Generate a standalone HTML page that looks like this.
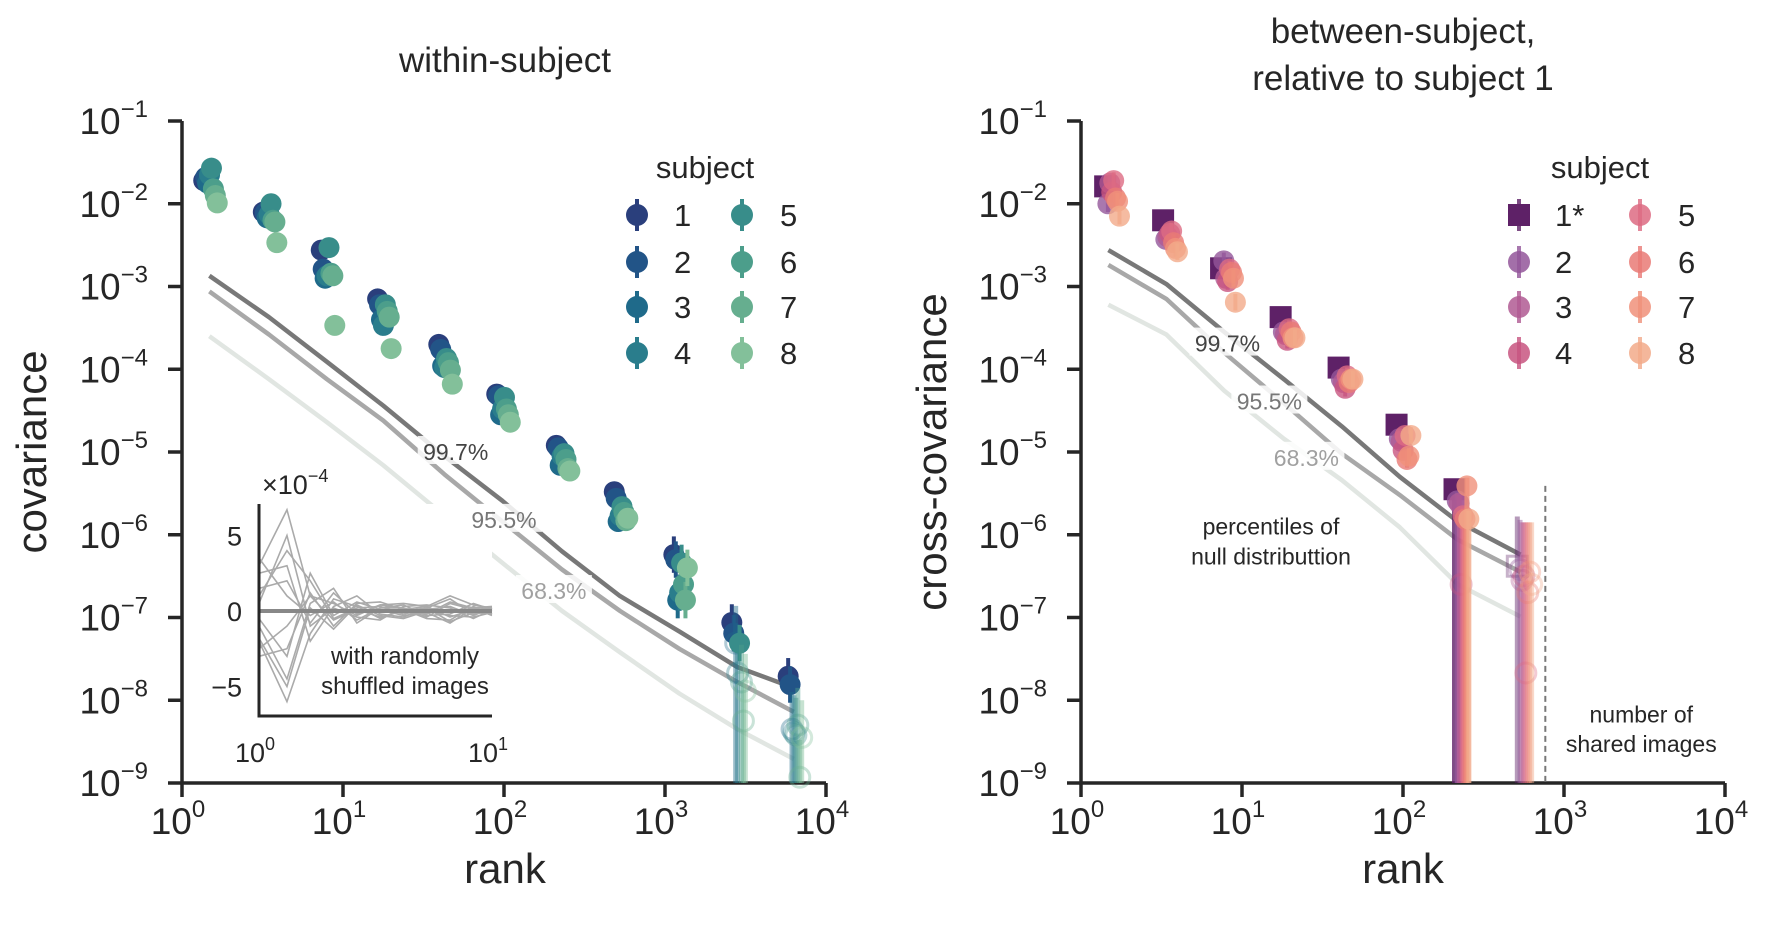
<!DOCTYPE html>
<html><head><meta charset="utf-8"><style>
html,body{margin:0;padding:0;background:#fff;}
svg{display:block;font-family:"Liberation Sans","DejaVu Sans",sans-serif;}
</style></head><body>
<svg id="fig" width="1773" height="931" viewBox="0 0 1773 931" xmlns="http://www.w3.org/2000/svg">
<g id="left"></g>
<g id="right"></g>
</svg>
<script>
// ---------- data (log10 values) ----------
const leftRanks = [0.17,0.54,0.90,1.25,1.63,1.99,2.36,2.72,3.09,3.45,3.80];
const leftS1 = [-1.72,-2.10,-2.56,-3.15,-3.70,-4.30,-4.92,-5.48,-6.24,-7.06,-7.71];
const leftS2 = [-1.68,-2.11,-2.79,-3.22,-3.76,-4.32,-4.95,-5.56,-6.30,-7.19,-7.81];
const leftS3 = [-1.75,-2.17,-2.90,-3.40,-3.96,-4.55,-5.16,-5.84,-6.79,-7.31,-8.35];
const leftS4 = [-1.65,-2.13,-2.87,-3.47,-3.98,-4.48,-5.05,-5.77,-6.70,-7.67,-8.39];
const leftS5 = [-1.57,-2.00,-2.53,-3.22,-3.87,-4.34,-5.02,-5.66,-6.34,-7.31,-8.42];
const leftS6 = [-1.82,-2.20,-2.84,-3.30,-3.92,-4.48,-5.09,-5.73,-6.60,-7.78,-8.30];
const leftS7 = [-1.90,-2.22,-2.87,-3.37,-4.01,-4.55,-5.20,-5.83,-6.79,-8.25,-8.93];
const leftS8 = [-1.99,-2.47,-3.47,-3.75,-4.18,-4.64,-5.23,-5.80,-6.40,-7.89,-8.45];
const leftNeg = [
 [0,0,0,0,0,0,0,0,0,0,0],[0,0,0,0,0,0,0,0,0,0,0],[0,0,0,0,0,0,0,0,0,1,1],[0,0,0,0,0,0,0,0,0,1,1],
 [0,0,0,0,0,0,0,0,0,0,1],[0,0,0,0,0,0,0,0,0,1,1],[0,0,0,0,0,0,0,0,0,1,1],[0,0,0,0,0,0,0,0,0,1,1]];
const leftNull997 = [-2.87,-3.37,-3.91,-4.44,-5.05,-5.59,-6.20,-6.74,-7.17,-7.60,-7.85];
const leftNull955 = [-3.06,-3.58,-4.12,-4.62,-5.27,-5.84,-6.42,-6.92,-7.38,-7.78,-8.14];
const leftNull683 = [-3.60,-4.12,-4.64,-5.16,-5.77,-6.34,-6.92,-7.42,-7.92,-8.35,-8.71];

const rightRanks = [0.15,0.51,0.87,1.24,1.60,1.96,2.32,2.71];
const rightS1 = [-1.79,-2.20,-2.78,-3.37,-3.98,-4.67,-5.45,-6.38];
const rightS2 = [-2.00,-2.43,-2.69,-3.55,-4.12,-4.84,-5.59,-6.42];
const rightS3 = [-1.75,-2.40,-2.90,-3.58,-4.16,-4.87,-5.62,-6.55];
const rightS4 = [-1.86,-2.36,-2.94,-3.65,-4.23,-4.98,-6.60,-6.50];
const rightS5 = [-1.72,-2.33,-2.79,-3.51,-4.08,-4.80,-5.77,-7.67];
const rightS6 = [-1.93,-2.47,-2.83,-3.55,-4.16,-5.09,-5.81,-6.70];
const rightS7 = [-1.97,-2.54,-2.90,-3.62,-4.12,-5.05,-5.41,-6.45];
const rightS8 = [-2.15,-2.58,-3.19,-3.62,-4.12,-4.80,-5.81,-6.60];
const rightNeg = [
 [0,0,0,0,0,0,0,1],[0,0,0,0,0,0,0,1],[0,0,0,0,0,0,0,1],[0,0,0,0,0,0,1,1],
 [0,0,0,0,0,0,0,1],[0,0,0,0,0,0,0,1],[0,0,0,0,0,0,0,1],[0,0,0,0,0,0,0,1]];
const rightNull997 = [-2.56,-2.97,-3.55,-4.12,-4.69,-5.30,-5.84,-6.24];
const rightNull955 = [-2.74,-3.15,-3.80,-4.41,-5.02,-5.52,-6.06,-6.45];
const rightNull683 = [-3.22,-3.58,-4.26,-4.84,-5.34,-5.91,-6.60,-6.99];
const sharedImagesLog = 2.884;

const insetX = [0,0.12,0.22,0.32,0.42,0.52,0.62,0.72,0.82,0.92,1.0];
const insetL1 = [3,6.7,1,0.5,-0.3,0.4,0.2,-0.2,0.6,0.2,0.3];
const insetL2 = [-2,-6,-1.5,0.8,0.3,-0.5,0.1,0.3,-0.4,0.1,0];
const insetL3 = [1,4,2,-0.5,0.2,0.3,-0.2,0.1,0.3,-0.3,0.2];
const insetL4 = [-1,-4.5,0.5,1.5,-0.8,0.2,0.4,-0.3,-0.2,0.5,0.1];
const insetL5 = [2.5,3,-2,0.3,1,-0.2,-0.4,0.2,0.8,-0.2,0];
const insetL6 = [-3,-2.5,1.2,-1,0.5,0.6,0.1,-0.5,-0.6,0.3,-0.2];
const insetL7 = [0.5,5,-1,0.2,-0.4,-0.6,0.3,0.4,0.2,-0.5,0.1];
const insetL8 = [-0.5,-3,2.5,-0.3,0.6,0.1,-0.3,-0.1,-0.8,0.2,-0.3];
const insetL9 = [1.5,2,-0.8,1.2,-0.2,0.4,0.5,0.3,1,0.4,0.2];
const insetL10 = [-1.8,-5,0.2,-1.2,0.4,-0.3,-0.5,0,-0.3,-0.4,-0.1];
const insetL11 = [3.5,1,-0.3,0.6,-0.6,0.2,0.2,-0.4,0.5,0.1,0.2];
const insetL12 = [-2.5,-1,1,-0.6,0.1,-0.4,0,0.2,-0.7,-0.1,-0.2];
const insetMean = [0,0,0,0,0,0,0,0,0,0,0];

const xTickExps = [0,1,2,3,4];
const yTickExps = [-1,-2,-3,-4,-5,-6,-7,-8,-9];
const subjectLabels = ['1','2','3','4','5','6','7','8'];
const rightLabels = ['1*','2','3','4','5','6','7','8'];
const leftColors = ['#2a3f7c','#225487','#1f6a8a','#2a7d8c','#388d8a','#4c9e8b','#66ae8f','#83c09a'];
const rightColors = ['#5e2167','#93569a','#b05a93','#c85580','#dd6b83','#e97a76','#f0917a','#f2aa8a'];

// ---------- helpers ----------
const NS='http://www.w3.org/2000/svg';
function mk(parent,tag,attrs){const e=document.createElementNS(NS,tag);for(const k in attrs)e.setAttribute(k,attrs[k]);parent.appendChild(e);return e;}
const Y0=121, DEC_Y=82.75, DEC_X=161, YBOT=783;
function yS(v){return Y0+(-1-v)*DEC_Y;}
function xL(l){return 182+DEC_X*l;}
function xR(l){return 1081+DEC_X*l;}
function supText(g,x,y,base,sup,anchor,size,name){
  const t=mk(g,'text',{x:x,y:y,'text-anchor':anchor,'font-size':size,fill:'#262626'});
  
  
  const a=document.createElementNS(NS,'tspan');a.textContent=base;t.appendChild(a);
  const b=document.createElementNS(NS,'tspan');b.setAttribute('dy',-Math.round(size*0.45));b.setAttribute('font-size',Math.round(size*0.66));b.textContent=sup;t.appendChild(b);
  return t;
}
function axes(g,xf,pref){
  const x0=xf(0),x1=xf(4);
  const sp=mk(g,'path',{d:`M${x0} ${Y0}V${YBOT}H${x1}`,fill:'none',stroke:'#262626','stroke-width':3.5});
  
  
  xTickExps.forEach(e=>{
    const x=xf(e);
    const tk=mk(g,'line',{x1:x,x2:x,y1:YBOT,y2:YBOT+14,stroke:'#262626','stroke-width':3.5});
    
    
    supText(g,x-4,834,'10',String(e),'middle',37,pref+'-x-tick-label');
  });
  yTickExps.forEach(e=>{
    const y=yS(e);
    const tk=mk(g,'line',{x1:x0-14,x2:x0,y1:y,y2:y,stroke:'#262626','stroke-width':3.5});
    
    
    supText(g,x0-34,y+13,'10','\u2212'+(-e),'end',37,pref+'-y-tick-label');
  });
}
function nullLines(g,xf,ranks,a,b,c,pref){
  [[c,'#e1e6e2'],[b,'#a8a8a8'],[a,'#787878']].forEach((s,i)=>{
    const d=ranks.map((r,j)=>(j?'L':'M')+xf(r)+' '+yS(s[0][j])).join('');
    const p=mk(g,'path',{d:d,fill:'none',stroke:s[1],'stroke-width':4.5,'stroke-linejoin':'round'});
    
    
  });
}
function pctLabel(g,x,y,txt,color,name){
  const r=mk(g,'rect',{x:x-38,y:y-16,width:76,height:28,fill:'#fff',opacity:0.85});
  
  
  const t=mk(g,'text',{x:x,y:y+8,'text-anchor':'middle','font-size':23,fill:color});
  t.textContent=txt;
  
  
}
function points(g,xf,ranks,series,negs,colors,pref,squareFirst,alpha){
  series.forEach((s,i)=>{
    const off=-0.035+i*0.012;
    s.forEach((v,j)=>{
      const x=xf(ranks[j]+(squareFirst&&i===0?0:off+(squareFirst?0.04:0)));
      const y=yS(v), neg=negs[i][j];
      const longBar = squareFirst && j>=6;
      if(neg){
        const top = squareFirst ? Math.max(v+0.6,-5.85) : v+0.45;
        const eb=mk(g,'line',{x1:x,x2:x,y1:yS(top),y2:YBOT,stroke:colors[i],'stroke-width':5,opacity:0.45});
        
        
        let m;
        if(squareFirst&&i===0) m=mk(g,'rect',{x:x-10,y:y-10,width:20,height:20,fill:'none',stroke:colors[i],'stroke-width':3,opacity:0.35});
        else m=mk(g,'circle',{cx:x,cy:y,r:10,fill:'none',stroke:colors[i],'stroke-width':3,opacity:0.35});
        
        
      } else {
        const e=(j>=8?0.22:0.1);
        const eb=mk(g,'line',{x1:x,x2:x,y1:yS(v+e),y2:longBar?YBOT:yS(v-e),stroke:colors[i],'stroke-width':longBar?5:4,opacity:alpha});
        
        
        let m;
        if(squareFirst&&i===0) m=mk(g,'rect',{x:x-11,y:y-11,width:22,height:22,fill:colors[i]});
        else m=mk(g,'circle',{cx:x,cy:y,r:10.5,fill:colors[i],opacity:alpha});
        
        
      }
    });
  });
}
function legend(g,xs,labelX,labels,colors,pref,square,title,titleX){
  const t=mk(g,'text',{x:titleX,y:178,'text-anchor':'middle','font-size':31,fill:'#262626'});
  t.textContent=title;
  
  
  const rows=[215,262,307,353];
  labels.forEach((lab,i)=>{
    const col=i<4?0:1, y=rows[i%4], x=xs[col];
    const eg=mk(g,'g',{});
    
    
    mk(eg,'line',{x1:x,x2:x,y1:y-16,y2:y+16,stroke:colors[i],'stroke-width':4,opacity:square?0.8:1});
    if(square&&i===0) mk(eg,'rect',{x:x-11,y:y-11,width:22,height:22,fill:colors[i]});
    else mk(eg,'circle',{cx:x,cy:y,r:11,fill:colors[i],opacity:square?0.85:1});
    const tt=mk(eg,'text',{x:labelX[col],y:y+11,'text-anchor':'start','font-size':31,fill:'#262626'});
    tt.textContent=lab;
  });
}
function plainText(g,x,y,txt,size,color,name,extra){
  const t=mk(g,'text',Object.assign({x:x,y:y,'text-anchor':'middle','font-size':size,fill:color},extra||{}));
  t.textContent=txt;
  
  
  return t;
}

// ---------- left panel ----------
const L=document.getElementById('left');
plainText(L,505,72,'within-subject',35,'#262626','left-title');
axes(L,xL,'left');
plainText(L,505,883,'rank',42,'#262626','left-x-axis-title');
plainText(L,0,0,'covariance',42,'#262626','left-y-axis-title',{transform:'translate(46,452) rotate(-90)'});
nullLines(L,xL,leftRanks,leftNull997,leftNull955,leftNull683,'left');

// inset
const I=mk(L,'g',{});


const IX0=259,IX1=492,IY0=611,IUNIT=15.1;
function ix(l){return IX0+(IX1-IX0)*l;}
function iy(v){return IY0-v*IUNIT;}
const ibg=mk(I,'rect',{x:IX0,y:504,width:IX1-IX0,height:212,fill:'#fff'});


[insetL1,insetL2,insetL3,insetL4,insetL5,insetL6,insetL7,insetL8,insetL9,insetL10,insetL11,insetL12].forEach(s=>{
  const p=mk(I,'path',{d:insetX.map((x,j)=>(j?'L':'M')+ix(x)+' '+iy(s[j])).join(''),fill:'none',stroke:'#aaaaaa','stroke-width':1.6});
  
  
});
const im=mk(I,'path',{d:insetX.map((x,j)=>(j?'L':'M')+ix(x)+' '+iy(insetMean[j])).join(''),fill:'none',stroke:'#888','stroke-width':4});


const isp=mk(I,'path',{d:`M${IX0} 504V716H${IX1}`,fill:'none',stroke:'#262626','stroke-width':3});


plainText(I,242,iy(5)+10,'5',27,'#262626','inset-y-tick-5',{'text-anchor':'end'});
plainText(I,242,iy(0)+10,'0',27,'#262626','inset-y-tick-0',{'text-anchor':'end'});
plainText(I,242,iy(-5)+10,'\u22125',27,'#262626','inset-y-tick-neg5',{'text-anchor':'end'});
supText(I,IX0-4,762,'10','0','middle',27,'inset-x-tick-label');
supText(I,IX1-4,762,'10','1','middle',27,'inset-x-tick-label');
supText(I,262,494,'\u00d710','\u22124','start',27,'inset-scale-label');
plainText(I,405,664,'with randomly',24,'#262626','inset-note-1');
plainText(I,405,694,'shuffled images',24,'#262626','inset-note-2');

pctLabel(L,xL(1.70),yS(-5.0),'99.7%','#444','left-label-99');
pctLabel(L,xL(2.0),yS(-5.82),'95.5%','#777','left-label-95');
pctLabel(L,xL(2.31),yS(-6.68),'68.3%','#a0a0a0','left-label-68');
points(L,xL,leftRanks,[leftS1,leftS2,leftS3,leftS4,leftS5,leftS6,leftS7,leftS8],leftNeg,leftColors,'left',false,1);
legend(L,[637,742],[674,780],subjectLabels,leftColors,'left',false,'subject',705);

// ---------- right panel ----------
const R=document.getElementById('right');
plainText(R,1403,43,'between-subject,',35,'#262626','right-title-line-1');
plainText(R,1403,90,'relative to subject 1',35,'#262626','right-title-line-2');
axes(R,xR,'right');
plainText(R,1403,883,'rank',42,'#262626','right-x-axis-title');
plainText(R,0,0,'cross-covariance',42,'#262626','right-y-axis-title',{transform:'translate(946,452) rotate(-90)'});
nullLines(R,xR,rightRanks.map(r=>r+0.02),rightNull997,rightNull955,rightNull683,'right');
pctLabel(R,xR(0.91),yS(-3.69),'99.7%','#444','right-label-99');
pctLabel(R,xR(1.17),yS(-4.39),'95.5%','#777','right-label-95');
pctLabel(R,xR(1.40),yS(-5.07),'68.3%','#a0a0a0','right-label-68');
plainText(R,xR(1.18),yS(-5.90)+8,'percentiles of',23,'#262626','null-note-1');
plainText(R,xR(1.18),yS(-6.26)+8,'null distributtion',23,'#262626','null-note-2');
const dl=mk(R,'line',{x1:xR(sharedImagesLog),x2:xR(sharedImagesLog),y1:yS(-5.41),y2:YBOT,stroke:'#777','stroke-width':2,'stroke-dasharray':'6,4'});


plainText(R,xR(3.48),yS(-8.17)+8,'number of',23,'#262626','shared-note-1');
plainText(R,xR(3.48),yS(-8.53)+8,'shared images',23,'#262626','shared-note-2');
points(R,xR,rightRanks,[rightS1,rightS2,rightS3,rightS4,rightS5,rightS6,rightS7,rightS8],rightNeg,rightColors,'right',true,0.8);
legend(R,[1519,1640],[1555,1678],rightLabels,rightColors,'right',true,'subject',1600);
</script>
</body></html>
